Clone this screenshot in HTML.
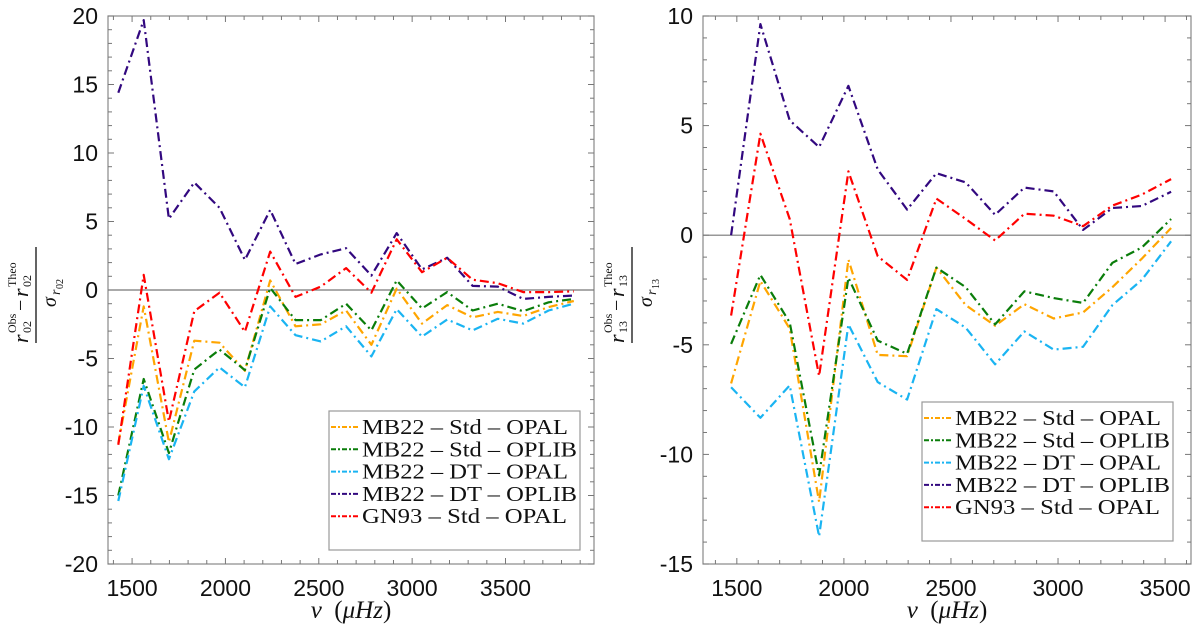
<!DOCTYPE html>
<html><head><meta charset="utf-8"><style>
body{margin:0;background:#fff;}
svg{display:block;}
.tk{font-family:"Liberation Sans",sans-serif;font-size:23px;fill:#111;}
.lg{font-family:"Liberation Serif",serif;font-size:21px;fill:#111;}
.lab{font-family:"Liberation Serif",serif;fill:#111;}
</style></head><body>
<svg id="chart" width="1200" height="636" viewBox="0 0 1200 636">
<g id="p1"></g>
<g id="p2"></g>
</svg>
<script>
const seriesNames = ["MB22 \u2013 Std \u2013 OPAL","MB22 \u2013 Std \u2013 OPLIB","MB22 \u2013 DT \u2013 OPAL","MB22 \u2013 DT \u2013 OPLIB","GN93 \u2013 Std \u2013 OPAL"];
const seriesColors = ["#ffa500","#0a7d0a","#1ab4f2","#32087f","#ff0000"];
const freqLeft = [1426,1562,1697,1833,1968,2104,2240,2375,2511,2646,2782,2917,3053,3188,3324,3459,3595,3731,3866];
const leftOrange = [-11.2,-1.2,-11.1,-3.7,-3.85,-5.9,0.7,-2.65,-2.5,-1.5,-4.0,0.1,-2.45,-1.1,-2.0,-1.6,-1.9,-1.25,-0.8];
const leftGreen = [-15.0,-6.5,-11.9,-5.8,-4.35,-5.85,0.15,-2.2,-2.2,-1.0,-2.95,0.7,-1.35,-0.15,-1.5,-1.0,-1.55,-0.9,-0.65];
const leftCyan = [-15.4,-7.0,-12.35,-7.4,-5.65,-7.1,-1.2,-3.3,-3.75,-2.65,-4.85,-1.4,-3.4,-2.15,-2.95,-2.1,-2.45,-1.5,-1.0];
const leftPurple = [14.4,19.7,5.2,7.85,6.0,2.2,5.85,1.9,2.6,3.05,1.05,4.15,1.5,2.35,0.3,0.25,-0.65,-0.5,-0.4];
const leftRed = [-11.3,1.1,-9.6,-1.55,-0.2,-3.05,2.8,-0.5,0.25,1.6,-0.2,3.7,1.3,2.35,0.75,0.5,-0.15,-0.15,-0.1];
const freqRight = [1473,1610,1747,1884,2021,2158,2295,2432,2569,2706,2843,2980,3117,3254,3391,3528];
const rightOrange = [-6.76,-2.09,-4.26,-12.17,-1.11,-5.46,-5.52,-1.48,-3.19,-4.13,-3.15,-3.8,-3.52,-2.37,-1.07,0.33];
const rightGreen = [-4.96,-1.81,-3.98,-10.96,-1.94,-4.81,-5.41,-1.48,-2.37,-4.07,-2.56,-2.87,-3.09,-1.26,-0.56,0.74];
const rightCyan = [-6.94,-8.33,-6.85,-13.74,-4.07,-6.7,-7.5,-3.37,-4.22,-5.89,-4.39,-5.22,-5.09,-3.19,-2.04,-0.28];
const rightPurple = [0,9.63,5.24,4.02,6.81,3.0,1.17,2.83,2.41,0.93,2.17,2.0,0.24,1.24,1.33,1.98];
const rightRed = [-3.67,4.63,0.74,-6.43,2.91,-0.96,-2.04,1.67,0.74,-0.24,0.98,0.89,0.41,1.35,1.85,2.56];
const leftXTicks = [1500,2000,2500,3000,3500];
const leftYTicks = [-20,-15,-10,-5,0,5,10,15,20];
const rightXTicks = [1500,2000,2500,3000,3500];
const rightYTicks = [-15,-10,-5,0,5,10];

const NS="http://www.w3.org/2000/svg";
function mk(tag,attrs,parent){const e=document.createElementNS(NS,tag);for(const k in attrs)e.setAttribute(k,attrs[k]);parent.appendChild(e);return e;}
function txt(parent,x,y,s,size,extra){const t=mk('text',Object.assign({x:x,y:y,class:'lab','font-size':size},extra||{}),parent);t.textContent=s;return t;}

function panel(g,cfg){
  const {x0,x1,y0,y1,xmin,xmax,ymin,ymax}=cfg;
  const sx=v=>x0+(v-xmin)/(xmax-xmin)*(x1-x0);
  const sy=v=>y1-(v-ymin)/(ymax-ymin)*(y1-y0);
  const frame=mk('rect',{x:x0,y:y0,width:x1-x0,height:y1-y0,fill:'#fff',stroke:'#888','stroke-width':1.2},g);
  
  
  for(let v=Math.ceil(xmin/100)*100; v<=xmax; v+=100){
    const X=sx(v), len=(v%500===0)?6:4;
    mk('line',{x1:X,y1:y1,x2:X,y2:y1-len,stroke:'#777','stroke-width':1},g);
    mk('line',{x1:X,y1:y0,x2:X,y2:y0+len,stroke:'#777','stroke-width':1},g);
  }
  for(let v=ymin; v<=ymax; v+=1){
    const Y=sy(v), len=(v%5===0)?6:4;
    mk('line',{x1:x0,y1:Y,x2:x0+len,y2:Y,stroke:'#777','stroke-width':1},g);
    mk('line',{x1:x1,y1:Y,x2:x1-len,y2:Y,stroke:'#777','stroke-width':1},g);
  }
  cfg.xticks.forEach(v=>{const t=mk('text',{x:sx(v),y:y1+32,'text-anchor':'middle',class:'tk'},g);t.textContent=v;
    
    });
  cfg.yticks.forEach(v=>{const t=mk('text',{x:x0-10,y:sy(v)+8,'text-anchor':'end',class:'tk'},g);t.textContent=v;
    
    });
  const z=mk('line',{x1:x0,y1:sy(0),x2:x1,y2:sy(0),stroke:'#777','stroke-width':1.2},g);
  
  
  cfg.series.forEach((s,i)=>{
    const pts=s.map((v,j)=>sx(cfg.freq[j]).toFixed(1)+','+sy(v).toFixed(1)).join(' ');
    const pl=mk('polyline',{points:pts,fill:'none',stroke:seriesColors[i],'stroke-width':2.2,'stroke-dasharray':'9,4,2,4','stroke-linejoin':'round'},g);
    
    
  });
  const L=cfg.legend;
  const lg=mk('g',{},g);
  
  
  mk('rect',{x:L.x,y:L.y,width:L.w,height:L.h,fill:'#fff',stroke:'#999','stroke-width':1.2},lg);
  const widths=[239,248,239,248,238];
  seriesNames.forEach((n,i)=>{
    const Y=L.y+16+i*22.3;
    const ent=mk('g',{},lg);
    
    
    mk('line',{x1:L.x+2,y1:Y,x2:L.x+30,y2:Y,stroke:seriesColors[i],'stroke-width':2,'stroke-dasharray':'5,2,2,2'},ent);
    const t=mk('text',{x:L.x+33,y:Y+7,class:'lg',textLength:widths[i]-33,lengthAdjust:'spacingAndGlyphs'},ent);t.textContent=n;
  });
  const xl=mk('text',{x:(x0+x1)/2,y:618,'text-anchor':'middle',class:'lab','font-size':25},g);
  xl.innerHTML='<tspan font-style="italic">ν</tspan>  (<tspan font-style="italic">μHz</tspan>)';
  xl.setAttribute('xml:space','preserve');
  xl.style.whiteSpace='pre';
  
  
  const yl=mk('g',{transform:`translate(${cfg.fx},295) rotate(-90)`},g);
  
  
  mk('line',{x1:-48,y1:0,x2:48,y2:0,stroke:'#111','stroke-width':1.3},yl);
  txt(yl,-48,-8,'r',22,{'font-style':'italic'});
  txt(yl,-38,-20,'Obs',12);
  txt(yl,-38,-5,cfg.sub,12);
  txt(yl,-16,-9,'−',20);
  txt(yl,-2,-8,'r',22,{'font-style':'italic'});
  txt(yl,8,-20,'Theo',12);
  txt(yl,8,-5,cfg.sub,12);
  txt(yl,-12,20,'σ',20,{'font-style':'italic'});
  txt(yl,0,24,'r',14,{'font-style':'italic'});
  txt(yl,6,27,cfg.sub,10);
}

panel(document.getElementById('p1'),{x0:108,x1:594,y0:16,y1:564,xmin:1371,xmax:3974,ymin:-20,ymax:20,
  xticks:leftXTicks,yticks:leftYTicks,freq:freqLeft,series:[leftOrange,leftGreen,leftCyan,leftPurple,leftRed],
  legend:{x:329,y:411,w:251,h:139},fx:36,sub:'02'});
panel(document.getElementById('p2'),{x0:703,x1:1191,y0:16,y1:564,xmin:1342,xmax:3621,ymin:-15,ymax:10,
  xticks:rightXTicks,yticks:rightYTicks,freq:freqRight,series:[rightOrange,rightGreen,rightCyan,rightPurple,rightRed],
  legend:{x:922,y:402,w:251,h:139},fx:632,sub:'13'});
</script>
</body></html>
